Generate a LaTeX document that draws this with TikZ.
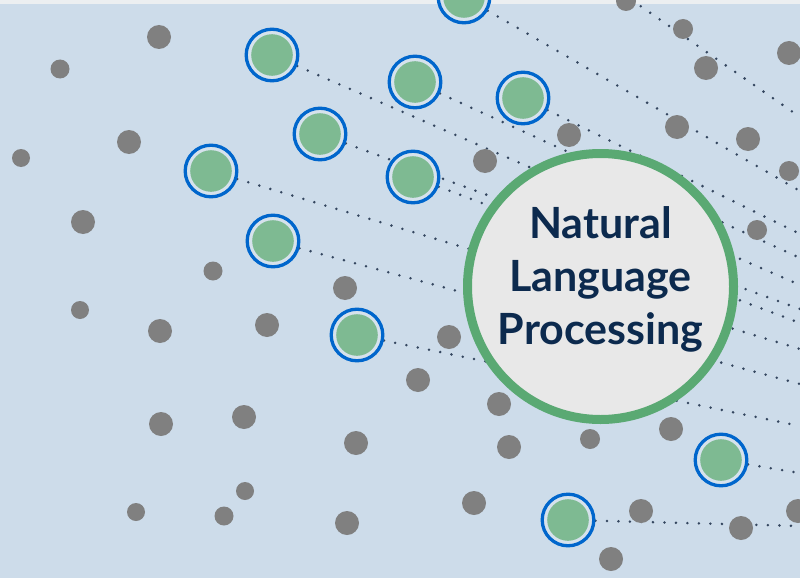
\documentclass[tikz,border=0pt]{standalone}
\usepackage{fontspec}
\newfontfamily\nlpfont{Lato}
\definecolor{sky}{HTML}{CDDCEA}
\definecolor{strip}{HTML}{ECEFF1}
\definecolor{ringblue}{HTML}{0066CC}
\definecolor{gapgrey}{HTML}{D6E2EC}
\definecolor{leaf}{HTML}{7EBA92}
\definecolor{stone}{HTML}{808080}
\definecolor{hubgreen}{HTML}{5AA973}
\definecolor{hubfill}{HTML}{E8E8E8}
\definecolor{navy}{HTML}{0C2A4E}
\definecolor{dotnavy}{HTML}{34465F}
\pgfdeclarelayer{back}
\pgfdeclarelayer{links}
\pgfsetlayers{back,links,main}
\tikzset{
  word/.style={shape=circle,draw=ringblue,line width=3.3pt,fill=gapgrey,
    minimum size=51.6pt,inner sep=0pt,
    path picture={\fill[leaf] (path picture bounding box.center) circle (20.8pt);}},
  spot/.style={shape=circle,fill=stone,inner sep=0pt,minimum size=#1},
  spot/.default=24pt,
  hub/.style={shape=circle,draw=hubgreen,line width=9pt,fill=hubfill,
    minimum size=266pt,inner sep=0pt,align=center,text=navy,text depth=22pt,
    font=\nlpfont\bfseries\fontsize{43}{53}\selectfont},
  link/.style={draw=dotnavy,line width=2.8pt,line cap=round,
    dash pattern=on 0pt off 11.5pt}
}
\begin{document}
\begin{tikzpicture}[x=1pt,y=-1pt]
\useasboundingbox (0,0) rectangle (800,578);
\begin{pgfonlayer}{back}
\fill[sky] (0,0) rectangle (800,578);
\fill[strip] (0,0) rectangle (800,4);
\end{pgfonlayer}
% grey spots
\node(s1) at (159,37)[spot]{};
\node(s2) at (60,69)[spot=19pt]{};
\node(s3) at (129,142)[spot]{};
\node(s4) at (21,158)[spot=18pt]{};
\node(s5) at (83,222)[spot]{};
\node(s6) at (213,271)[spot=19pt]{};
\node(s7) at (345,288)[spot]{};
\node(s8) at (80,310)[spot=18pt]{};
\node(s9) at (160,331)[spot]{};
\node(s10) at (267,325)[spot]{};
\node(s11) at (161,424)[spot]{};
\node(s12) at (244,417)[spot]{};
\node(s13) at (356,443)[spot]{};
\node(s14) at (245,491)[spot=18pt]{};
\node(s15) at (136,512)[spot=18pt]{};
\node(s16) at (224,516)[spot=19pt]{};
\node(s17) at (347,523)[spot]{};
\node(s18) at (626,1)[spot=20pt]{};
\node(s19) at (683,29)[spot=20pt]{};
\node(s20) at (706,68)[spot]{};
\node(s21) at (789,53)[spot]{};
\node(s22) at (569,135)[spot]{};
\node(s23) at (485,161)[spot]{};
\node(s24) at (677,127)[spot]{};
\node(s25) at (748,139)[spot]{};
\node(s26) at (789,171)[spot=20pt]{};
\node(s27) at (757,230)[spot=20pt]{};
\node(s28) at (449,337)[spot]{};
\node(s29) at (418,380)[spot]{};
\node(s30) at (499,404)[spot]{};
\node(s31) at (509,447)[spot]{};
\node(s32) at (590,439)[spot=20pt]{};
\node(s33) at (671,429)[spot]{};
\node(s34) at (474,503)[spot]{};
\node(s35) at (641,511)[spot]{};
\node(s36) at (741,528)[spot]{};
\node(s37) at (798,511)[spot]{};
\node(s38) at (611,559)[spot]{};
% green words
\node(g1) at (464,-3)[word]{};
\node(g2) at (272,55)[word]{};
\node(g3) at (415,82)[word]{};
\node(g4) at (523,98)[word]{};
\node(g5) at (320,134)[word]{};
\node(g6) at (211,171)[word]{};
\node(g7) at (413,177)[word]{};
\node(g8) at (273,241)[word]{};
\node(g9) at (357,335)[word]{};
\node(g10) at (721,460)[word]{};
\node(g11) at (568,520)[word]{};
% hub
\node(hub) at (600.5,286.5)[hub]{Natural\\Language\\Processing};
% ends of the dotted links
\coordinate(g0) at (603,-20);
\coordinate(e0) at (800,117);
\coordinate(e1) at (800,191);
\coordinate(e2) at (800,285);
\coordinate(e3) at (800,258);
\coordinate(e4) at (800,234);
\coordinate(e5) at (800,309);
\coordinate(e6) at (800,349);
\coordinate(e7) at (800,323);
\coordinate(e8) at (800,384);
\coordinate(e9) at (800,426);
\coordinate(e10) at (800,473);
\coordinate(e11) at (800,526);
\begin{pgfonlayer}{links}
\path [link]
  (g0)      edge      (e0)
  (g1)      edge      (e1)
  (g2)      edge      (e2)
  (g3)      edge      (e3)
  (g4)      edge      (e4)
  (g5)      edge      (e5)
  (g6)      edge      (e6)
  (g7)      edge      (e7)
  (g8)      edge      (e8)
  (g9)      edge      (e9)
  (g10)     edge      (e10)
  (g11)     edge      (e11);
\end{pgfonlayer}
\end{tikzpicture}
\end{document}
